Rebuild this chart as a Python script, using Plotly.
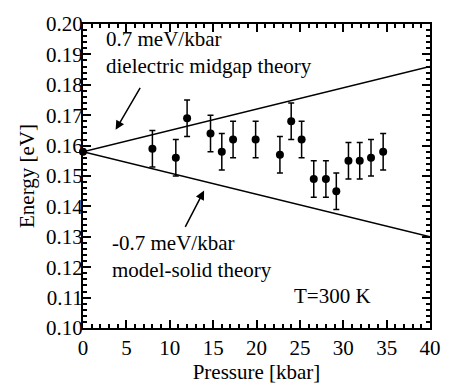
import plotly.graph_objects as go

# Data
pressure = [0, 8.0, 10.7, 12.0, 14.7, 16.0, 17.3, 19.9, 22.7, 24.0, 25.2, 26.6, 28.0, 29.2, 30.6, 31.9, 33.2, 34.6]
energy = [0.158, 0.159, 0.156, 0.169, 0.164, 0.158, 0.162, 0.162, 0.157, 0.168, 0.162, 0.149, 0.149, 0.145, 0.155, 0.155, 0.156, 0.158]
err = [0] + [0.006] * 17

intercept = 0.158
slope_up = 0.0007
slope_down = -0.0007
line_x = [0, 40]

x_ticks = [0, 5, 10, 15, 20, 25, 30, 35, 40]
y_ticks = [0.10, 0.11, 0.12, 0.13, 0.14, 0.15, 0.16, 0.17, 0.18, 0.19, 0.20]

FONT = "Liberation Serif, Times New Roman, serif"
FS = 21

fig = go.Figure()
fig.add_trace(go.Scatter(x=line_x, y=[intercept + slope_up * v for v in line_x],
                         mode="lines", line=dict(color="black", width=1.5), showlegend=False))
fig.add_trace(go.Scatter(x=line_x, y=[intercept + slope_down * v for v in line_x],
                         mode="lines", line=dict(color="black", width=1.5), showlegend=False))
fig.add_trace(go.Scatter(x=pressure, y=energy, mode="markers",
                         marker=dict(color="black", size=8),
                         error_y=dict(type="data", array=err, color="black", thickness=1.5, width=3),
                         showlegend=False, cliponaxis=False))

texts = [
    ("0.7 meV/kbar<br>dielectric midgap theory", 2.4, 0.1905),
    ("-0.7 meV/kbar<br>model-solid theory", 3.1, 0.1234),
    ("T=300 K", 24.1, 0.1104),
]
for t, x, y in texts:
    fig.add_annotation(x=x, y=y, text=t, showarrow=False, xanchor="left", yanchor="middle",
                       align="left", font=dict(family=FONT, size=FS, color="black"))

# arrows (tip, tail)
arrows = [((3.76, 0.1652), (6.69, 0.1795)), ((13.96, 0.1452), (11.7, 0.1328))]
for (tx, ty), (sx, sy) in arrows:
    fig.add_annotation(x=tx, y=ty, ax=sx, ay=sy, axref="x", ayref="y", xref="x", yref="y",
                       text="", showarrow=True, arrowhead=2, arrowsize=1.2, arrowwidth=1.5,
                       arrowcolor="black")

axis_common = dict(showline=True, linecolor="black", linewidth=2, mirror="allticks",
                   ticks="inside", ticklen=8, tickwidth=2, tickcolor="black",
                   showgrid=False, zeroline=False,
                   tickfont=dict(family=FONT, size=FS, color="black"))

fig.update_xaxes(range=[0, 40], tickvals=x_ticks, ticktext=[str(v) for v in x_ticks],
                 minor=dict(dtick=1, ticks="inside", ticklen=4, tickwidth=1.5, tickcolor="black"),
                 title=dict(text="Pressure [kbar]", font=dict(family=FONT, size=FS, color="black"),
                            standoff=4),
                 **axis_common)
fig.update_yaxes(range=[0.10, 0.20], tickvals=y_ticks, ticktext=[f"{v:.2f}" for v in y_ticks],
                 minor=dict(dtick=0.002, ticks="inside", ticklen=4, tickwidth=1.5, tickcolor="black"),
                 title=dict(text="Energy [eV]", font=dict(family=FONT, size=FS, color="black"),
                            standoff=6),
                 ticklabelstandoff=-6,
                 **axis_common)

fig.update_layout(width=453, height=391, margin=dict(l=83, r=15, t=12, b=60),
                  plot_bgcolor="white", paper_bgcolor="white",
                  font=dict(family=FONT, size=FS, color="black"))

fig.write_html("out.html")
